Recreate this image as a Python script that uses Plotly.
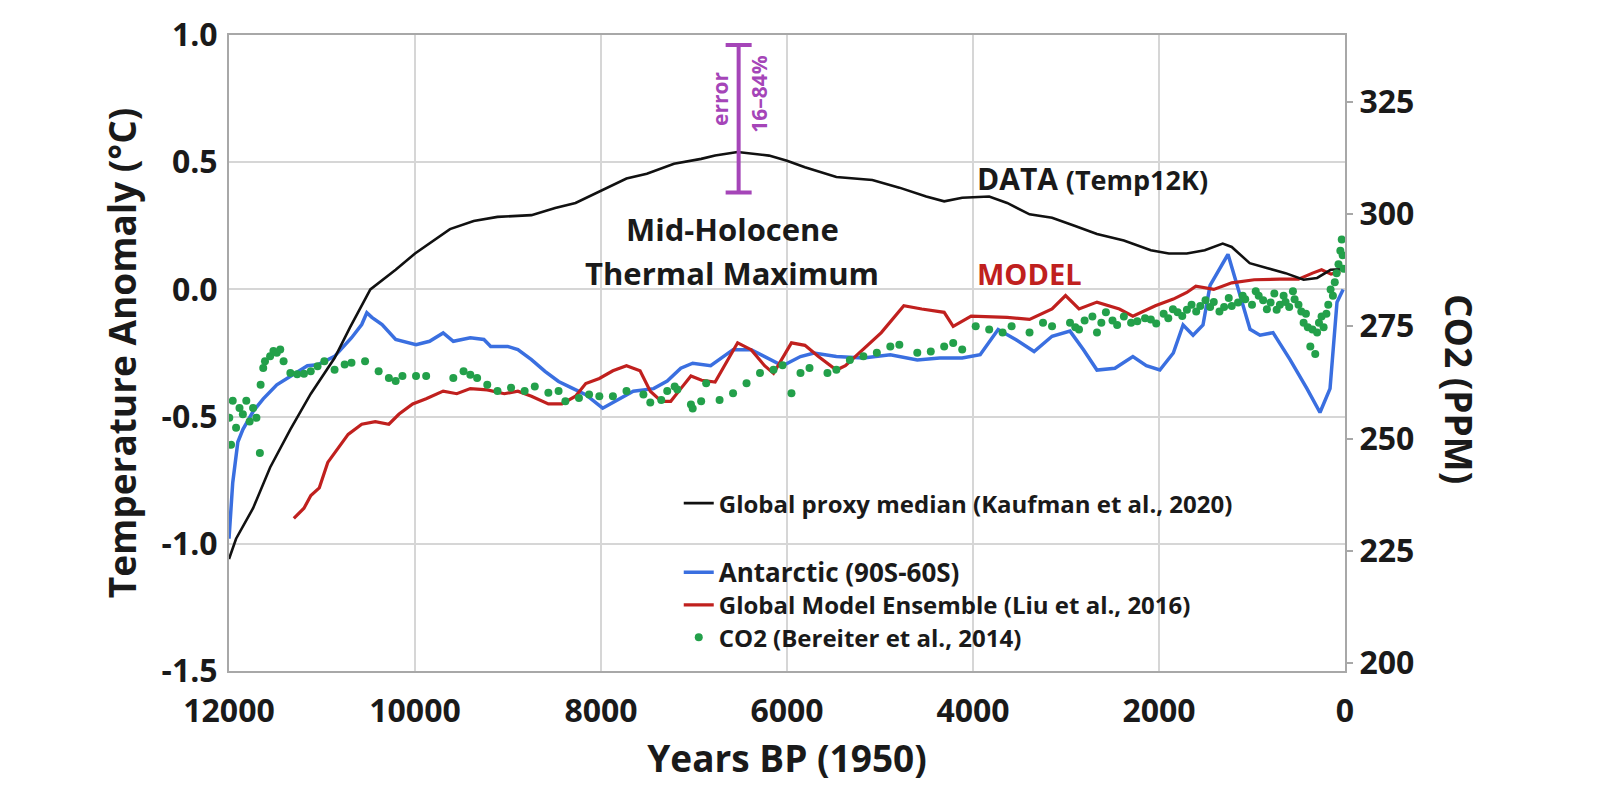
import plotly.graph_objects as go

# ---------------- data ----------------
data_years = [12000, 11924, 11741, 11558, 11340, 11120, 10865, 10700, 10480, 10208,
              10000, 9624, 9369, 9113, 8748, 8493, 8274, 8018, 7726, 7507, 7215,
              6923, 6773, 6531, 6193, 6000, 5807, 5469, 5082, 4792, 4503, 4310,
              4116, 3826, 3633, 3392, 3150, 2909, 2667, 2378, 2088, 1894, 1701,
              1508, 1315, 1218, 1025, 832, 639, 445, 300, 155, 0]
data_temp = [-1.06, -0.98, -0.86, -0.70, -0.55, -0.41, -0.27, -0.15, 0.0, 0.077,
             0.141, 0.237, 0.269, 0.285, 0.292, 0.32, 0.34, 0.385, 0.436, 0.455, 0.494,
             0.513, 0.526, 0.54, 0.526, 0.506, 0.48, 0.442, 0.43, 0.40, 0.365, 0.346,
             0.36, 0.365, 0.34, 0.295, 0.282, 0.25, 0.218, 0.192, 0.154, 0.141, 0.141,
             0.154, 0.18, 0.167, 0.103, 0.083, 0.064, 0.038, 0.045, 0.077, 0.08]

ant_years = [12000, 11960, 11905, 11850, 11741, 11632, 11486, 11303, 11157, 11048,
             10865, 10682, 10573, 10518, 10464, 10354, 10208, 9989, 9843, 9697, 9588,
             9405, 9259, 9186, 9004, 8894, 8748, 8602, 8456, 8310, 8164, 7982, 7799,
             7653, 7434, 7288, 7142, 7014, 6821, 6580, 6386, 6241, 6048, 5855, 5710,
             5469, 5179, 4889, 4599, 4358, 4116, 3923, 3730, 3537, 3343, 3150, 2957,
             2812, 2667, 2474, 2281, 2136, 1991, 1846, 1741, 1634, 1527, 1451, 1258,
             1021, 914, 774, 591, 409, 269, 161, 86, 20]
ant_temp = [-0.98, -0.76, -0.60, -0.55, -0.48, -0.43, -0.375, -0.335, -0.30, -0.296,
            -0.263, -0.19, -0.138, -0.092, -0.11, -0.138, -0.197, -0.217, -0.204, -0.171, -0.204,
            -0.19, -0.197, -0.224, -0.224, -0.237, -0.276, -0.322, -0.362, -0.388, -0.414, -0.467, -0.428,
            -0.40, -0.39, -0.36, -0.31, -0.29, -0.30, -0.237, -0.237, -0.264, -0.30, -0.264, -0.25,
            -0.264, -0.27, -0.257, -0.277, -0.27, -0.27, -0.257, -0.158, -0.198, -0.244, -0.184, -0.164,
            -0.237, -0.317, -0.31, -0.264, -0.30, -0.317, -0.25, -0.14, -0.18, -0.14, 0.016, 0.138,
            -0.157, -0.18, -0.17, -0.276, -0.39, -0.484, -0.39, -0.05, 0.0]

model_years = [11303, 11194, 11120, 11029, 10938, 10828, 10719, 10573, 10427, 10281,
               10171, 10025, 9880, 9697, 9551, 9405, 9223, 9040, 8894, 8748, 8566,
               8420, 8274, 8164, 8018, 7872, 7726, 7580, 7470, 7350, 7250, 7142, 7033,
               6918, 6773, 6531, 6386, 6241, 6145, 5952, 5807, 5662, 5469, 5372, 5179,
               4986, 4744, 4551, 4310, 4213, 4020, 3633, 3392, 3150, 3005, 2860, 2667,
               2426, 2281, 2039, 1846, 1701, 1604, 1411, 1218, 976, 700, 500, 349, 252,
               150, 50]
model_temp = [-0.90, -0.86, -0.81, -0.78, -0.68, -0.625, -0.57, -0.53, -0.52, -0.53,
              -0.49, -0.45, -0.43, -0.40, -0.41, -0.39, -0.395, -0.41, -0.40, -0.42, -0.45,
              -0.45, -0.42, -0.37, -0.35, -0.32, -0.30, -0.32, -0.40, -0.44, -0.44, -0.39, -0.34,
              -0.357, -0.364, -0.21, -0.237, -0.30, -0.33, -0.21, -0.22, -0.264, -0.317, -0.30, -0.237,
              -0.17, -0.064, -0.077, -0.09, -0.145, -0.105, -0.11, -0.118, -0.077, -0.024, -0.077, -0.05,
              -0.077, -0.105, -0.064, -0.038, -0.012, 0.013, 0.0, 0.026, 0.038, 0.04, 0.04, 0.064, 0.077,
              0.06, 0.07]

co2_years = [11997, 11978, 11960, 11924, 11887, 11851, 11814, 11778, 11741, 11705,
             11668, 11660, 11632, 11613, 11558, 11522, 11486, 11449, 11413, 11340,
             11267, 11194, 11121, 11048, 10975, 10865, 10756, 10683, 10537, 10391,
             10281, 10208, 10135, 9989, 9880, 9588, 9478, 9405, 9332, 9223, 9113,
             8967, 8821, 8712, 8566, 8456, 8383, 8237, 8128, 8018, 7872, 7726, 7544,
             7470, 7352, 7288, 7208, 7179, 7033, 7014, 6923, 6869, 6725, 6580, 6435,
             6290, 6145, 6048, 5952, 5855, 5758, 5565, 5469, 5324, 5179, 5034, 4889,
             4792, 4599, 4454, 4310, 4213, 4116, 3971, 3826, 3682, 3585, 3392, 3247,
             3150, 2957, 2900, 2860, 2800, 2716, 2667, 2620, 2571, 2500, 2450, 2378,
             2300, 2233, 2150, 2088, 2030, 1950, 1900, 1850, 1800, 1750, 1700, 1650,
             1600, 1556, 1500, 1450, 1411, 1350, 1300, 1250, 1218, 1150, 1100, 1073,
             1000, 960, 928, 880, 840, 800, 760, 735, 700, 660, 639, 600, 560, 542,
             500, 470, 445, 420, 400, 373, 350, 320, 300, 280, 252, 230, 200, 180,
             155, 130, 110, 90, 70, 50, 35, 25, 15]
co2_ppm = [254.6, 248.6, 258.4, 252.4, 256.8, 255.4, 258.4, 253.8, 256.8, 254.6,
           246.8, 262.0, 265.7, 267.2, 268.3, 269.5, 269.1, 269.8, 267.2, 264.6,
           264.3, 264.4, 265.0, 266.1, 267.2, 265.3, 266.5, 266.9, 267.2, 265.0,
           263.5, 262.8, 263.9, 263.9, 263.9, 263.5, 265.0, 264.2, 263.5, 262.0, 260.6,
           261.3, 260.6, 261.6, 260.2, 260.6, 258.3, 259.0, 259.8, 259.4, 259.4, 260.6, 259.8,
           258.0, 258.6, 260.6, 261.6, 260.9, 257.6, 256.7, 258.3, 262.3, 258.6, 260.1, 262.3,
           264.6, 265.3, 266.3, 260.1, 264.6, 265.7, 264.6, 265.3, 267.5, 268.3, 269.1, 270.5,
           270.9, 269.1, 269.4, 270.5, 271.3, 269.8, 275.0, 274.3, 273.6, 275.0, 273.6, 275.8,
           275.0, 275.8, 274.8, 274.3, 276.3, 277.2, 273.6, 275.8, 278.1, 276.3, 275.3, 277.2,
           275.8, 276.1, 276.8, 276.5, 275.6, 277.8, 276.8, 278.8, 278.1, 277.3, 278.7, 279.8,
           278.3, 279.5, 280.8, 279.3, 280.4, 278.3, 279.3, 281.3, 279.5, 280.3, 281.8, 281.0,
           279.8, 282.8, 281.8, 280.8, 278.8, 280.3, 282.3, 278.7, 279.8, 281.8, 280.4, 279.3, 282.8, 281.0,
           279.8, 278.3, 275.8, 277.8, 274.8, 270.5, 274.3, 268.8, 273.6, 275.8, 277.2, 274.8, 277.8, 279.8,
           283.2, 281.8, 284.8, 286.8, 288.8, 291.8, 294.3, 290.8, 287.8]

err_year = 6520
err_mid = 0.671
err_half = 0.29

x_ticks = [12000, 10000, 8000, 6000, 4000, 2000, 0]
y_ticks = [-1.5, -1.0, -0.5, 0.0, 0.5, 1.0]
y_ticktext = ["-1.5", "-1.0", "-0.5", "0.0", "0.5", "1.0"]
co2_ticks = [200, 225, 250, 275, 300, 325]

# ---------------- styling ----------------
FONT = "Open Sans"
TXT = "#1a1a1a"
BLUE = "#3a6fe0"
RED = "#c0201e"
GREEN = "#23a04a"
PURPLE = "#a545b8"
FRAME = "#a8a8a8"
GRID = "#d6d6d6"

fig = go.Figure()

fig.add_trace(go.Scatter(x=ant_years, y=ant_temp, mode="lines",
                         name="<span style='font-size:26px'>Antarctic (90S-60S)</span>",
                         line=dict(color=BLUE, width=3.5), legend="legend2"))
fig.add_trace(go.Scatter(x=model_years, y=model_temp, mode="lines",
                         name="Global Model Ensemble (Liu et al., 2016)",
                         line=dict(color=RED, width=3.2), legend="legend3"))
fig.add_trace(go.Scatter(x=data_years, y=data_temp, mode="lines",
                         name="Global proxy median (Kaufman et al., 2020)",
                         line=dict(color="#111111", width=2.6), legend="legend"))
fig.add_trace(go.Scatter(x=[err_year], y=[err_mid], mode="markers", showlegend=False,
                         marker=dict(size=1, color="rgba(0,0,0,0)"),
                         error_y=dict(type="data", array=[err_half], symmetric=True,
                                      color=PURPLE, thickness=4, width=13)))
fig.add_trace(go.Scatter(x=co2_years, y=co2_ppm, mode="markers", yaxis="y2",
                         name="CO2 (Bereiter et al., 2014)",
                         marker=dict(color=GREEN, size=8), legend="legend4"))

tickfont = dict(family=FONT, size=32, color=TXT, weight="bold")
titlefont = dict(family=FONT, size=37, color=TXT, weight="bold")
legfont = dict(family=FONT, size=24, color=TXT, weight="bold")


def leg(y):
    return dict(x=0.403, y=y, xanchor="left", yanchor="middle",
                bgcolor="rgba(0,0,0,0)", font=legfont)


fig.update_layout(
    width=1600, height=801,
    margin=dict(l=229, r=255, t=33, b=130),
    paper_bgcolor="white", plot_bgcolor="white",
    font=dict(family=FONT, color=TXT, weight="bold"),
    xaxis=dict(range=[12000, 0], tickvals=x_ticks, tickformat="d",
               showgrid=True, gridcolor=GRID, gridwidth=1.5, zeroline=False,
               showline=True, linecolor=FRAME, linewidth=2, mirror=True,
               ticks="", tickfont=tickfont, ticklabelstandoff=11,
               title=dict(text="Years BP (1950)", font=titlefont, standoff=16)),
    yaxis=dict(range=[-1.5, 1.0], tickvals=y_ticks, ticktext=y_ticktext,
               showgrid=True, gridcolor=GRID, gridwidth=1.5, zeroline=False,
               showline=True, linecolor=FRAME, linewidth=2, mirror=True,
               ticks="", tickfont=tickfont, ticklabelstandoff=3,
               title=dict(text="Temperature Anomaly (°C)", font=titlefont, standoff=14)),
    yaxis2=dict(range=[198.22, 339.87], overlaying="y", side="right",
                tickvals=co2_ticks, showgrid=False, zeroline=False, showline=False,
                ticks="outside", ticklen=7, tickcolor=FRAME, tickwidth=2,
                tickfont=tickfont),
    legend=leg(0.2633),
    legend2=leg(0.1545),
    legend3=leg(0.1034),
    legend4=leg(0.0525),
    showlegend=True,
)

ann_font = dict(family=FONT, size=31, color=TXT, weight="bold")
fig.add_annotation(x=6590, y=0.236, text="Mid-Holocene", showarrow=False, font=ann_font)
fig.add_annotation(x=6590, y=0.063, text="Thermal Maximum", showarrow=False, font=ann_font)
fig.add_annotation(x=3980, y=0.437, xanchor="left",
                   text="DATA <span style='font-size:27px'>(Temp12K)</span>",
                   showarrow=False, font=dict(family=FONT, size=30, color=TXT, weight="bold"))
fig.add_annotation(x=3980, y=0.063, xanchor="left", text="MODEL", showarrow=False,
                   font=dict(family=FONT, size=29, color=RED, weight="bold"))
fig.add_annotation(x=6719, y=0.749, text="error", textangle=-90, showarrow=False,
                   font=dict(family=FONT, size=21, color=PURPLE))
fig.add_annotation(x=6300, y=0.769, text="16–84%", textangle=-90, showarrow=False,
                   font=dict(family=FONT, size=21, color=PURPLE))
fig.add_annotation(x=1.102, y=0.4436, xref="paper", yref="paper", text="CO2 (PPM)",
                   xanchor="center", yanchor="middle",
                   textangle=90, showarrow=False,
                   font=dict(family=FONT, size=37, color=TXT, weight="bold"))

fig.write_html("out.html")
